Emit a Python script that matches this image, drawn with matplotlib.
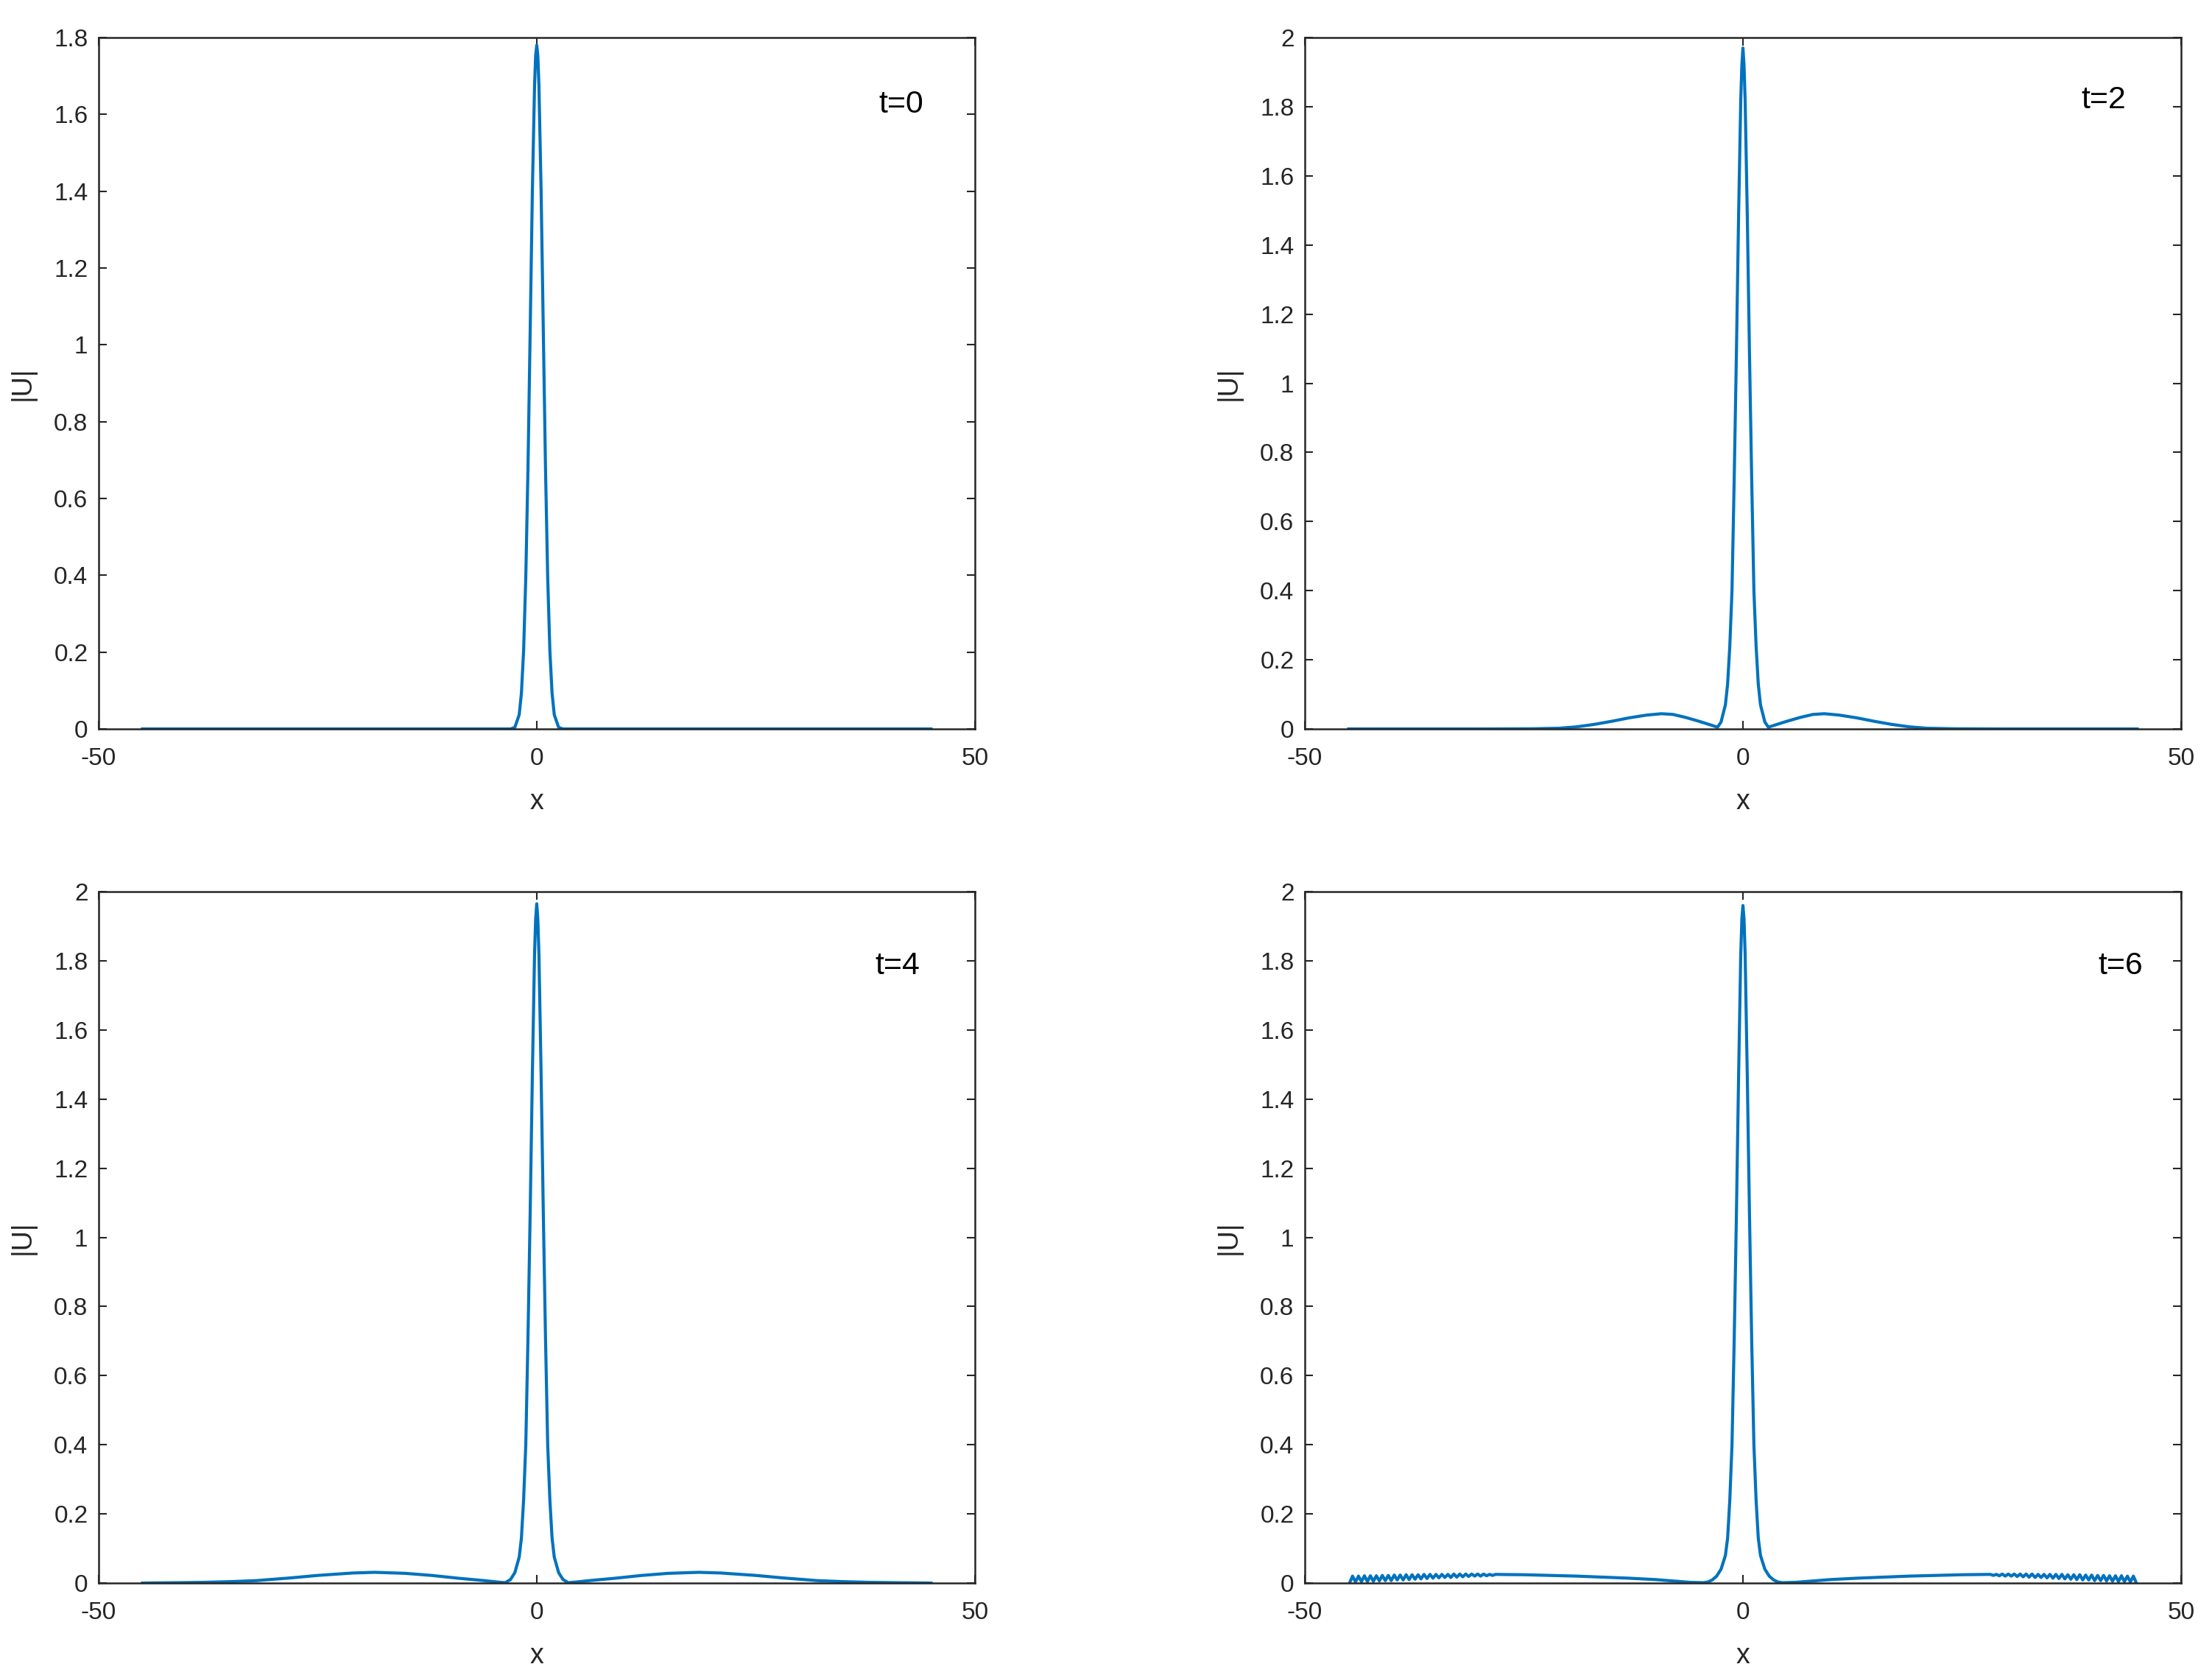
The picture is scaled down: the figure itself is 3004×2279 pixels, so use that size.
import numpy as np
import matplotlib
matplotlib.use('Agg')
import matplotlib.pyplot as plt
from matplotlib.ticker import FormatStrFormatter

plt.rcParams['font.family'] = ['Liberation Sans', 'DejaVu Sans']
plt.rcParams['axes.unicode_minus'] = False

# half profiles |U|(x) for x >= 0 (mirrored for x < 0)
x_t0 = [0, 0.125, 0.25, 0.5, 0.75, 1.0, 1.25, 1.5, 1.75, 2.0, 2.5, 3.0, 45]
u_t0 = [1.78, 1.753, 1.675, 1.399, 1.035, 0.679, 0.394, 0.203, 0.093, 0.037, 0.004, 0.0, 0.0]

x_t2 = [0, 0.125, 0.25, 0.5, 0.75, 1.0, 1.25, 1.5, 1.75, 2.0, 2.5, 2.9, 3.5, 5, 6.5, 8,
        9.3, 11, 13, 15, 17, 19, 21, 24, 30, 45]
u_t2 = [1.97, 1.92, 1.82, 1.48, 1.08, 0.72, 0.40, 0.24, 0.13, 0.07, 0.02, 0.005, 0.010, 0.022,
        0.033, 0.042, 0.044, 0.040, 0.032, 0.022, 0.013, 0.006, 0.002, 0.0005, 0.0, 0.0]

x_t4 = [0, 0.125, 0.25, 0.5, 0.75, 1.0, 1.25, 1.5, 1.75, 2.0, 2.5, 3.0, 3.6, 4.5, 6, 9, 12,
        15, 18.5, 21, 25, 28, 32, 35, 38, 41, 45]
u_t4 = [1.965, 1.92, 1.82, 1.47, 1.07, 0.71, 0.40, 0.24, 0.13, 0.075, 0.03, 0.01, 0.001, 0.003,
        0.007, 0.014, 0.022, 0.028, 0.031, 0.029, 0.022, 0.015, 0.007, 0.004, 0.002, 0.001, 0.0]

x_t6 = [0, 0.125, 0.25, 0.5, 0.75, 1.0, 1.25, 1.5, 1.75, 2.0, 2.5, 3.0, 3.5, 4.0, 4.5, 6, 8,
        10, 13, 16, 19, 22, 25, 27,
        28.24, 28.58, 28.92, 29.26, 29.60, 29.94, 30.28, 30.62, 30.96, 31.30,
        31.64, 31.98, 32.32, 32.66, 33.00, 33.34, 33.68, 34.02, 34.36, 34.70,
        35.04, 35.38, 35.72, 36.06, 36.40, 36.74, 37.08, 37.42, 37.76, 38.10,
        38.44, 38.78, 39.12, 39.46, 39.80, 40.14, 40.48, 40.82, 41.16, 41.50,
        41.84, 42.18, 42.52, 42.86, 43.20, 43.54, 43.88, 44.22, 44.56, 44.90]
u_t6 = [1.96, 1.92, 1.82, 1.46, 1.06, 0.70, 0.40, 0.24, 0.13, 0.08, 0.04, 0.02, 0.009, 0.003,
        0.001, 0.002, 0.006, 0.010, 0.014, 0.017, 0.020, 0.022, 0.024, 0.0245,
        0.025, 0.022, 0.025, 0.021, 0.026, 0.020, 0.026, 0.020, 0.026, 0.019,
        0.026, 0.018, 0.026, 0.017, 0.026, 0.016, 0.025, 0.016, 0.025, 0.015,
        0.025, 0.014, 0.025, 0.013, 0.025, 0.012, 0.024, 0.011, 0.024, 0.010,
        0.024, 0.009, 0.023, 0.009, 0.023, 0.007, 0.022, 0.007, 0.022, 0.006,
        0.021, 0.005, 0.021, 0.004, 0.021, 0.004, 0.020, 0.003, 0.020, 0.0]

labels = ['t=0', 't=2', 't=4', 't=6']
ymax = [1.8, 2, 2, 2]
label_pos = [(39, 1.625), (38.6, 1.82), (38.6, 1.785), (40.5, 1.785)]
profiles = [(x_t0, u_t0), (x_t2, u_t2), (x_t4, u_t4), (x_t6, u_t6)]

fig = plt.figure(figsize=(3004 / 300, 2279 / 300), dpi=300)
rects = [[0.0446, 0.5656, 0.3961, 0.412], [0.5899, 0.5656, 0.3961, 0.412],
         [0.0446, 0.0566, 0.3961, 0.412], [0.5899, 0.0566, 0.3961, 0.412]]

line_color = '#0072BD'
axis_color = '#262626'

for i in range(4):
    ax = fig.add_axes(rects[i])
    xh = np.array(profiles[i][0])
    uh = np.array(profiles[i][1])
    x = np.concatenate([-xh[::-1], xh[1:]])
    u = np.concatenate([uh[::-1], uh[1:]])
    ax.plot(x, u, color=line_color, linewidth=1.0)
    ax.set_xlim(-50, 50)
    ax.set_ylim(0, ymax[i])
    ax.set_xticks([-50, 0, 50])
    ax.set_yticks(np.arange(0, ymax[i] + 0.01, 0.2))
    ax.yaxis.set_major_formatter(FormatStrFormatter('%g'))
    ax.tick_params(direction='in', length=2.6, width=0.5, top=True, right=True,
                   labelsize=8, colors=axis_color)
    ax.tick_params(axis='x', pad=6)
    ax.tick_params(axis='y', pad=3.5)
    for s in ax.spines.values():
        s.set_linewidth(0.6)
        s.set_color(axis_color)
    ax.set_xlabel('x', fontsize=9, color=axis_color, labelpad=6)
    ax.set_ylabel('|U|', fontsize=9, color=axis_color, labelpad=6)
    ax.text(label_pos[i][0], label_pos[i][1], labels[i], fontsize=10.3,
            ha='left', va='center', color='black')

fig.savefig('out.png', dpi=300)
